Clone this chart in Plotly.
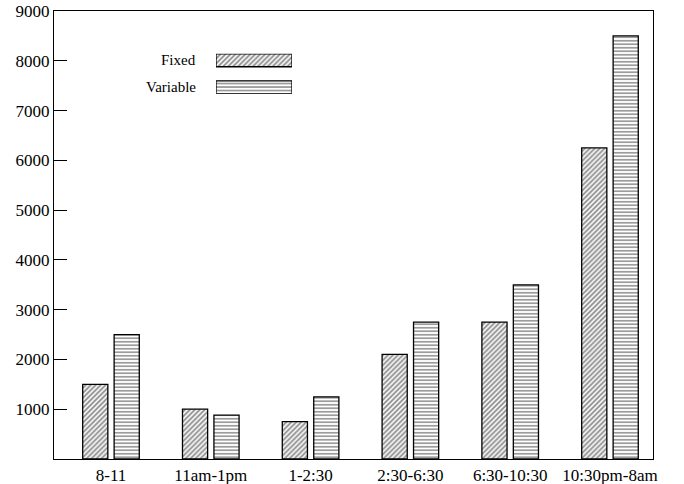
import plotly.graph_objects as go

categories = ["8-11", "11am-1pm", "1-2:30", "2:30-6:30", "6:30-10:30", "10:30pm-8am"]
fixed = [1500, 1000, 750, 2100, 2750, 6250]
variable = [2500, 880, 1250, 2750, 3500, 8500]
series_names = ["Fixed", "Variable"]
y_ticks = [1000, 2000, 3000, 4000, 5000, 6000, 7000, 8000, 9000]

FONT = "Liberation Serif"
pat_fixed = dict(shape="/", fgcolor="#111111", bgcolor="white", size=3.5, solidity=0.5)
pat_var = dict(shape="-", fgcolor="#222222", bgcolor="white", size=3.5, solidity=0.45)
line = dict(color="black", width=1.3)

fig = go.Figure()
fig.add_trace(go.Bar(x=categories, y=fixed, name=series_names[0],
                     marker=dict(color="white", pattern=pat_fixed, line=line)))
fig.add_trace(go.Bar(x=categories, y=variable, name=series_names[1],
                     marker=dict(color="white", pattern=pat_var, line=line)))

# legend swatches drawn as horizontal bars on an overlay axis
fig.add_trace(go.Bar(y=[series_names[0]], x=[1], orientation="h", xaxis="x2", yaxis="y2",
                     width=0.48, showlegend=False, hoverinfo="skip",
                     marker=dict(color="white", pattern=pat_fixed, line=line)))
fig.add_trace(go.Bar(y=[series_names[1]], x=[1], orientation="h", xaxis="x2", yaxis="y2",
                     width=0.48, showlegend=False, hoverinfo="skip",
                     marker=dict(color="white", pattern=pat_var, line=line)))

W, H = 684, 484
L, R, T, B = 54, 653, 10.5, 458.7  # plot-area edges in pixels
pw, ph = R - L, B - T
def px_x(p):
    return (p - L) / pw
def px_y(p):
    return (B - p) / ph

fig.update_layout(
    width=W, height=H,
    margin=dict(l=L, r=W - R, t=T, b=H - B, pad=0),
    paper_bgcolor="white", plot_bgcolor="white",
    showlegend=False,
    barmode="group", bargap=0.37, bargroupgap=0.2,
    font=dict(family=FONT, color="black", size=15),
    xaxis=dict(range=[-0.571, 5.431], showline=True, linecolor="black", linewidth=1.3,
               mirror=True, ticks="", showgrid=False, zeroline=False, automargin=False,
               tickfont=dict(family=FONT, size=17, color="black")),
    yaxis=dict(range=[0, 9000], tickvals=y_ticks, showline=True, linecolor="black",
               linewidth=1.3, mirror=True, ticks="inside", ticklen=13, tickwidth=1.3,
               tickcolor="black", showgrid=False, zeroline=False, automargin=False,
               tickfont=dict(family=FONT, size=17, color="black")),
    yaxis3=dict(range=[0, 9000], tickvals=y_ticks, overlaying="y", side="right",
                anchor="x", showticklabels=False, ticks="inside", ticklen=7,
                tickwidth=1.3, tickcolor="black", showline=False, showgrid=False,
                zeroline=False, automargin=False),
    xaxis2=dict(domain=[px_x(216), px_x(292)], range=[0, 1], anchor="y2",
                visible=False, fixedrange=True),
    yaxis2=dict(domain=[px_y(93.3), px_y(53.3)], range=[-0.24, 1.24], anchor="x2",
                visible=False, type="category",
                categoryorder="array", categoryarray=[series_names[1], series_names[0]]),
)

for name, ypix in [(series_names[0], 60), (series_names[1], 87)]:
    fig.add_annotation(text=name, xref="paper", yref="paper", x=px_x(198), y=px_y(ypix),
                       xanchor="right", yanchor="middle", showarrow=False,
                       font=dict(family=FONT, size=15, color="black"))

fig.write_html("out.html", config={"displayModeBar": False},
               post_script="document.body.style.margin='0';document.body.style.overflow='hidden';")
